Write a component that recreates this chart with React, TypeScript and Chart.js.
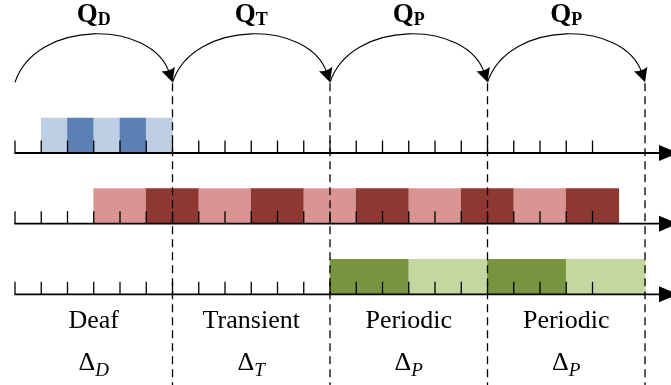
import React, { useEffect, useRef } from 'react';
import { Chart, registerables } from 'chart.js';

Chart.register(...registerables);

// ---- data ----
const tickUnits = [0, 1, 2, 3, 4, 5, 6, 7, 8, 9, 10, 11, 12, 13, 14, 15, 16, 17, 18, 19, 20, 21, 22];
const phaseBounds = [0, 6, 12, 18, 24];
const phaseNames = ['Deaf', 'Transient', 'Periodic', 'Periodic'];
const phaseSubs = ['D', 'T', 'P', 'P'];

// row 0 (blue)
const blueSlots: [number, number][] = [[1, 2], [2, 3], [3, 4], [4, 5], [5, 6]];
const blueShades = ['light', 'dark', 'light', 'dark', 'light'];
// row 1 (red)
const redSlots: [number, number][] = [[3, 5], [5, 7], [7, 9], [9, 11], [11, 13], [13, 15], [15, 17], [17, 19], [19, 21], [21, 23]];
const redShades = ['light', 'dark', 'light', 'dark', 'light', 'dark', 'light', 'dark', 'light', 'dark'];
// row 2 (green)
const greenSlots: [number, number][] = [[12, 15], [15, 18], [18, 21], [21, 24]];
const greenShades = ['dark', 'light', 'dark', 'light'];

// ---- styles / layout ----
const COLORS: Record<string, Record<string, string>> = {
  blue: { light: '#BFCFE3', dark: '#5A80B4' },
  red: { light: '#D99592', dark: '#8E3832' },
  green: { light: '#C4D7A0', dark: '#77953F' },
};
const X_MIN = -0.5714;
const X_MAX = 24.99;
const Y_MIN = -2.1656;
const Y_MAX = 3.2838;
const BAR_OFFSET = 0.248;
const ARC_BASE = -1.0;
const ARC_TOP = -1.67;
const Q_BASE = -1.855;
const LABEL_BASE = 2.477;
const DELTA_BASE = 3.075;
const AXIS_END = 24.57;
const SERIF = '"Liberation Serif", "Times New Roman", serif';

type Slot = { x: [number, number]; y: number };

const rowsDef = [
  { slots: blueSlots, shades: blueShades, color: 'blue', row: 0 },
  { slots: redSlots, shades: redShades, color: 'red', row: 1 },
  { slots: greenSlots, shades: greenShades, color: 'green', row: 2 },
];

const barData: Slot[] = [];
const barColors: string[] = [];
rowsDef.forEach((r) => {
  r.slots.forEach((s, i) => {
    barData.push({ x: s, y: r.row - BAR_OFFSET });
    barColors.push(COLORS[r.color][r.shades[i]]);
  });
});

function drawSub(
  ctx: CanvasRenderingContext2D,
  main: string,
  sub: string,
  cx: number,
  baseline: number,
  mainFont: string,
  subFont: string,
  drop: number
) {
  ctx.font = mainFont;
  const w1 = ctx.measureText(main).width;
  ctx.font = subFont;
  const w2 = ctx.measureText(sub).width;
  const x0 = cx - (w1 + w2) / 2;
  ctx.textAlign = 'left';
  ctx.textBaseline = 'alphabetic';
  ctx.font = mainFont;
  ctx.fillText(main, x0, baseline);
  ctx.font = subFont;
  ctx.fillText(sub, x0 + w1, baseline + drop);
}

const diagramPlugin = {
  id: 'diagram',
  afterDatasetsDraw(chart: any) {
    const ctx: CanvasRenderingContext2D = chart.ctx;
    const xs = chart.scales.x;
    const ys = chart.scales.y;
    const px = (v: number) => xs.getPixelForValue(v);
    const py = (v: number) => ys.getPixelForValue(v);
    ctx.save();
    ctx.strokeStyle = '#000';
    ctx.fillStyle = '#000';

    // axes, ticks, arrows
    [0, 1, 2].forEach((r) => {
      const y = py(r);
      ctx.lineWidth = 1.3;
      ctx.setLineDash([]);
      tickUnits.forEach((t) => {
        const x = px(t);
        ctx.beginPath();
        ctx.moveTo(x, y);
        ctx.lineTo(x, y - 12.5);
        ctx.stroke();
      });
      ctx.lineWidth = 1.8;
      ctx.beginPath();
      ctx.moveTo(px(0) - 0.6, y);
      ctx.lineTo(px(AXIS_END), y);
      ctx.stroke();
      const bx = px(AXIS_END) - 1;
      ctx.beginPath();
      ctx.moveTo(bx, y - 8);
      ctx.lineTo(bx + 19, y);
      ctx.lineTo(bx, y + 8);
      ctx.closePath();
      ctx.fill();
    });

    // dashed phase boundaries
    ctx.lineWidth = 1.3;
    ctx.setLineDash([8, 5]);
    phaseBounds.slice(1).forEach((b) => {
      const x = px(b);
      ctx.beginPath();
      ctx.moveTo(x, py(ARC_BASE) + 1);
      ctx.lineTo(x, py(Y_MAX));
      ctx.stroke();
    });
    ctx.setLineDash([]);

    // arcs with arrowheads
    const ang = (72 * Math.PI) / 180;
    for (let i = 0; i < phaseBounds.length - 1; i++) {
      const x0 = px(phaseBounds[i]);
      const x1 = px(phaseBounds[i + 1]);
      const yb = py(ARC_BASE);
      const yt = py(ARC_TOP);
      const k = ((yb - yt) * 4) / 3;
      const dx = k / Math.tan(ang);
      ctx.lineWidth = 1.1;
      ctx.beginPath();
      ctx.moveTo(x0, yb);
      ctx.bezierCurveTo(x0 + dx, yb - k, x1 - dx, yb - k, x1 - 3, yb - 9);
      ctx.stroke();
      const ux = Math.cos(ang);
      const uy = Math.sin(ang);
      const tipX = x1;
      const tipY = yb;
      const len = 14;
      const hw = 7;
      const cxB = tipX - ux * len;
      const cyB = tipY - uy * len;
      ctx.beginPath();
      ctx.moveTo(tipX, tipY);
      ctx.lineTo(cxB - uy * hw, cyB + ux * hw);
      ctx.quadraticCurveTo(cxB + ux * 3, cyB + uy * 3, cxB + uy * hw, cyB - ux * hw);
      ctx.closePath();
      ctx.fill();
    }

    // texts
    for (let i = 0; i < phaseNames.length; i++) {
      const cx = (px(phaseBounds[i]) + px(phaseBounds[i + 1])) / 2;
      drawSub(ctx, 'Q', phaseSubs[i], cx, py(Q_BASE), `bold 27px ${SERIF}`, `bold 18px ${SERIF}`, 3);
      ctx.font = `26px ${SERIF}`;
      ctx.textAlign = 'center';
      ctx.textBaseline = 'alphabetic';
      ctx.fillText(phaseNames[i], cx, py(LABEL_BASE));
      drawSub(ctx, '\u0394', phaseSubs[i], cx, py(DELTA_BASE), `26px ${SERIF}`, `italic 19px ${SERIF}`, 6);
    }
    ctx.restore();
  },
};

export default function App() {
  const ref = useRef<HTMLCanvasElement>(null);
  useEffect(() => {
    const chart = new Chart(ref.current as HTMLCanvasElement, {
      type: 'bar',
      data: {
        datasets: [
          {
            data: barData as any,
            backgroundColor: barColors,
            borderWidth: 0,
            barThickness: 35,
          } as any,
        ],
      },
      options: {
        indexAxis: 'y',
        animation: false,
        responsive: false,
        devicePixelRatio: 1,
        events: [],
        layout: { padding: 0 },
        plugins: { legend: { display: false }, tooltip: { enabled: false }, title: { display: false } },
        scales: {
          x: { type: 'linear', min: X_MIN, max: X_MAX, display: false, offset: false },
          y: { type: 'linear', min: Y_MIN, max: Y_MAX, reverse: true, display: false, offset: false },
        },
      },
      plugins: [diagramPlugin],
    });
    return () => chart.destroy();
  }, []);
  return (
    <div style={{ position: 'absolute', left: 0, top: 0, width: 671, height: 385, background: '#fff' }}>
      <canvas ref={ref} width={671} height={385} style={{ display: 'block', width: 671, height: 385 }} />
    </div>
  );
}
